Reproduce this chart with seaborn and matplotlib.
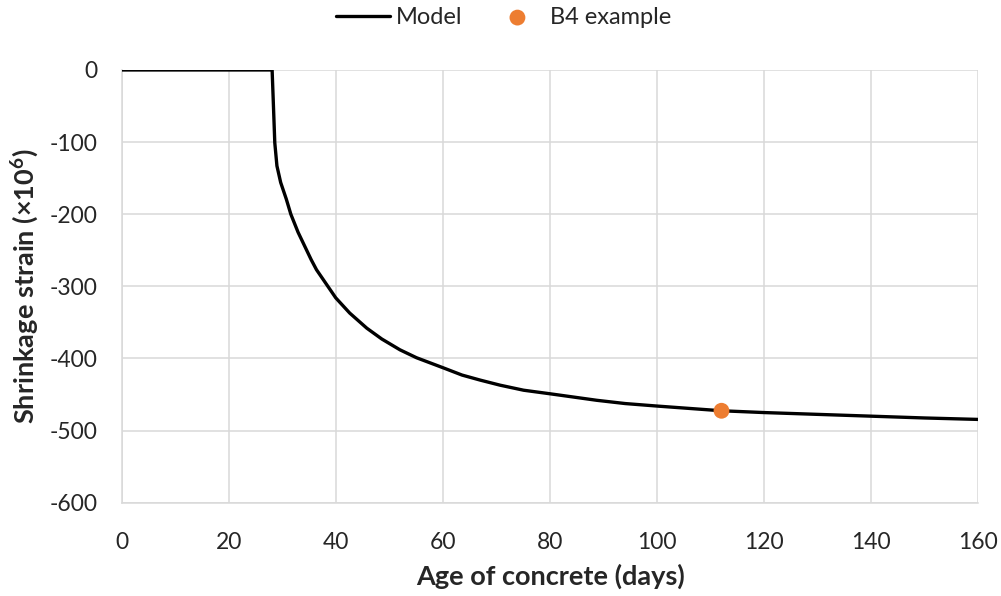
import numpy as np
import pandas as pd
import matplotlib
matplotlib.use("Agg")
import matplotlib.pyplot as plt
import seaborn as sns

# ---------------------------------------------------------------------------
# Data
# ---------------------------------------------------------------------------
model_age = [0, 28, 28.2, 28.5, 28.9, 29.6, 30.65, 31.5, 32.85, 35.3, 36.3, 39.9,
             42.5, 45.7, 48.5, 51.9, 55, 57.5, 60, 63.5, 66.9, 70.6, 75, 80,
             88.7, 94, 100, 109.2, 112, 120, 130, 140, 150, 160]
model_strain = [0, 0, -40, -101, -133, -156, -179, -200, -225, -263, -277, -316,
                -337, -358, -373, -388, -399, -406, -413, -423, -430, -437, -444, -449,
                -458, -462.5, -466, -471, -472.5, -475, -477.5, -480, -482.5, -484.5]

b4_age = [112]
b4_strain = [-472.5]

x_ticks = [0, 20, 40, 60, 80, 100, 120, 140, 160]
y_ticks = [0, -100, -200, -300, -400, -500, -600]

# ---------------------------------------------------------------------------
# Style
# ---------------------------------------------------------------------------
sns.set_theme(style="white")
plt.rcParams["font.family"] = ["Lato", "DejaVu Sans"]
plt.rcParams["axes.unicode_minus"] = False
plt.rcParams["mathtext.default"] = "regular"

GRID = "#D9D9D9"
ORANGE = "#ED7D31"

model_df = pd.DataFrame({"age": model_age, "strain": model_strain})
b4_df = pd.DataFrame({"age": b4_age, "strain": b4_strain})

fig = plt.figure(figsize=(10.01, 5.96), dpi=100)
ax = fig.add_axes([0.1222, 0.1565, 0.8551, 0.7261])

sns.lineplot(data=model_df, x="age", y="strain", color="black", linewidth=2.4,
             ax=ax, label="Model", zorder=3)
sns.scatterplot(data=b4_df, x="age", y="strain", color=ORANGE, s=130,
                edgecolor="none", ax=ax, label="B4 example", zorder=4)

ax.set_xlim(0, 160)
ax.set_ylim(-600, 0)
ax.set_xticks(x_ticks)
ax.set_yticks(y_ticks)
ax.tick_params(axis="both", labelsize=16.5, length=0)
ax.tick_params(axis="x", pad=21)
ax.tick_params(axis="y", pad=18)

ax.grid(True, color=GRID, linewidth=1.1)
ax.set_axisbelow(True)
for side in ["top", "right"]:
    ax.spines[side].set_visible(False)
for side in ["left", "bottom"]:
    ax.spines[side].set_color(GRID)
    ax.spines[side].set_linewidth(1.1)

ax.set_xlabel("Age of concrete (days)", fontsize=19.5, fontweight="bold", labelpad=8)
ax.set_ylabel("Shrinkage strain (×10$^{6}$)", fontsize=19.5, fontweight="bold", labelpad=6)

ax.legend(loc="center", bbox_to_anchor=(0.503, 0.971), bbox_transform=fig.transFigure,
          ncol=2, frameon=False, fontsize=17, handlelength=2.3, columnspacing=1.2,
          handletextpad=0.22, borderaxespad=0)

fig.savefig("out.png", dpi=100)
